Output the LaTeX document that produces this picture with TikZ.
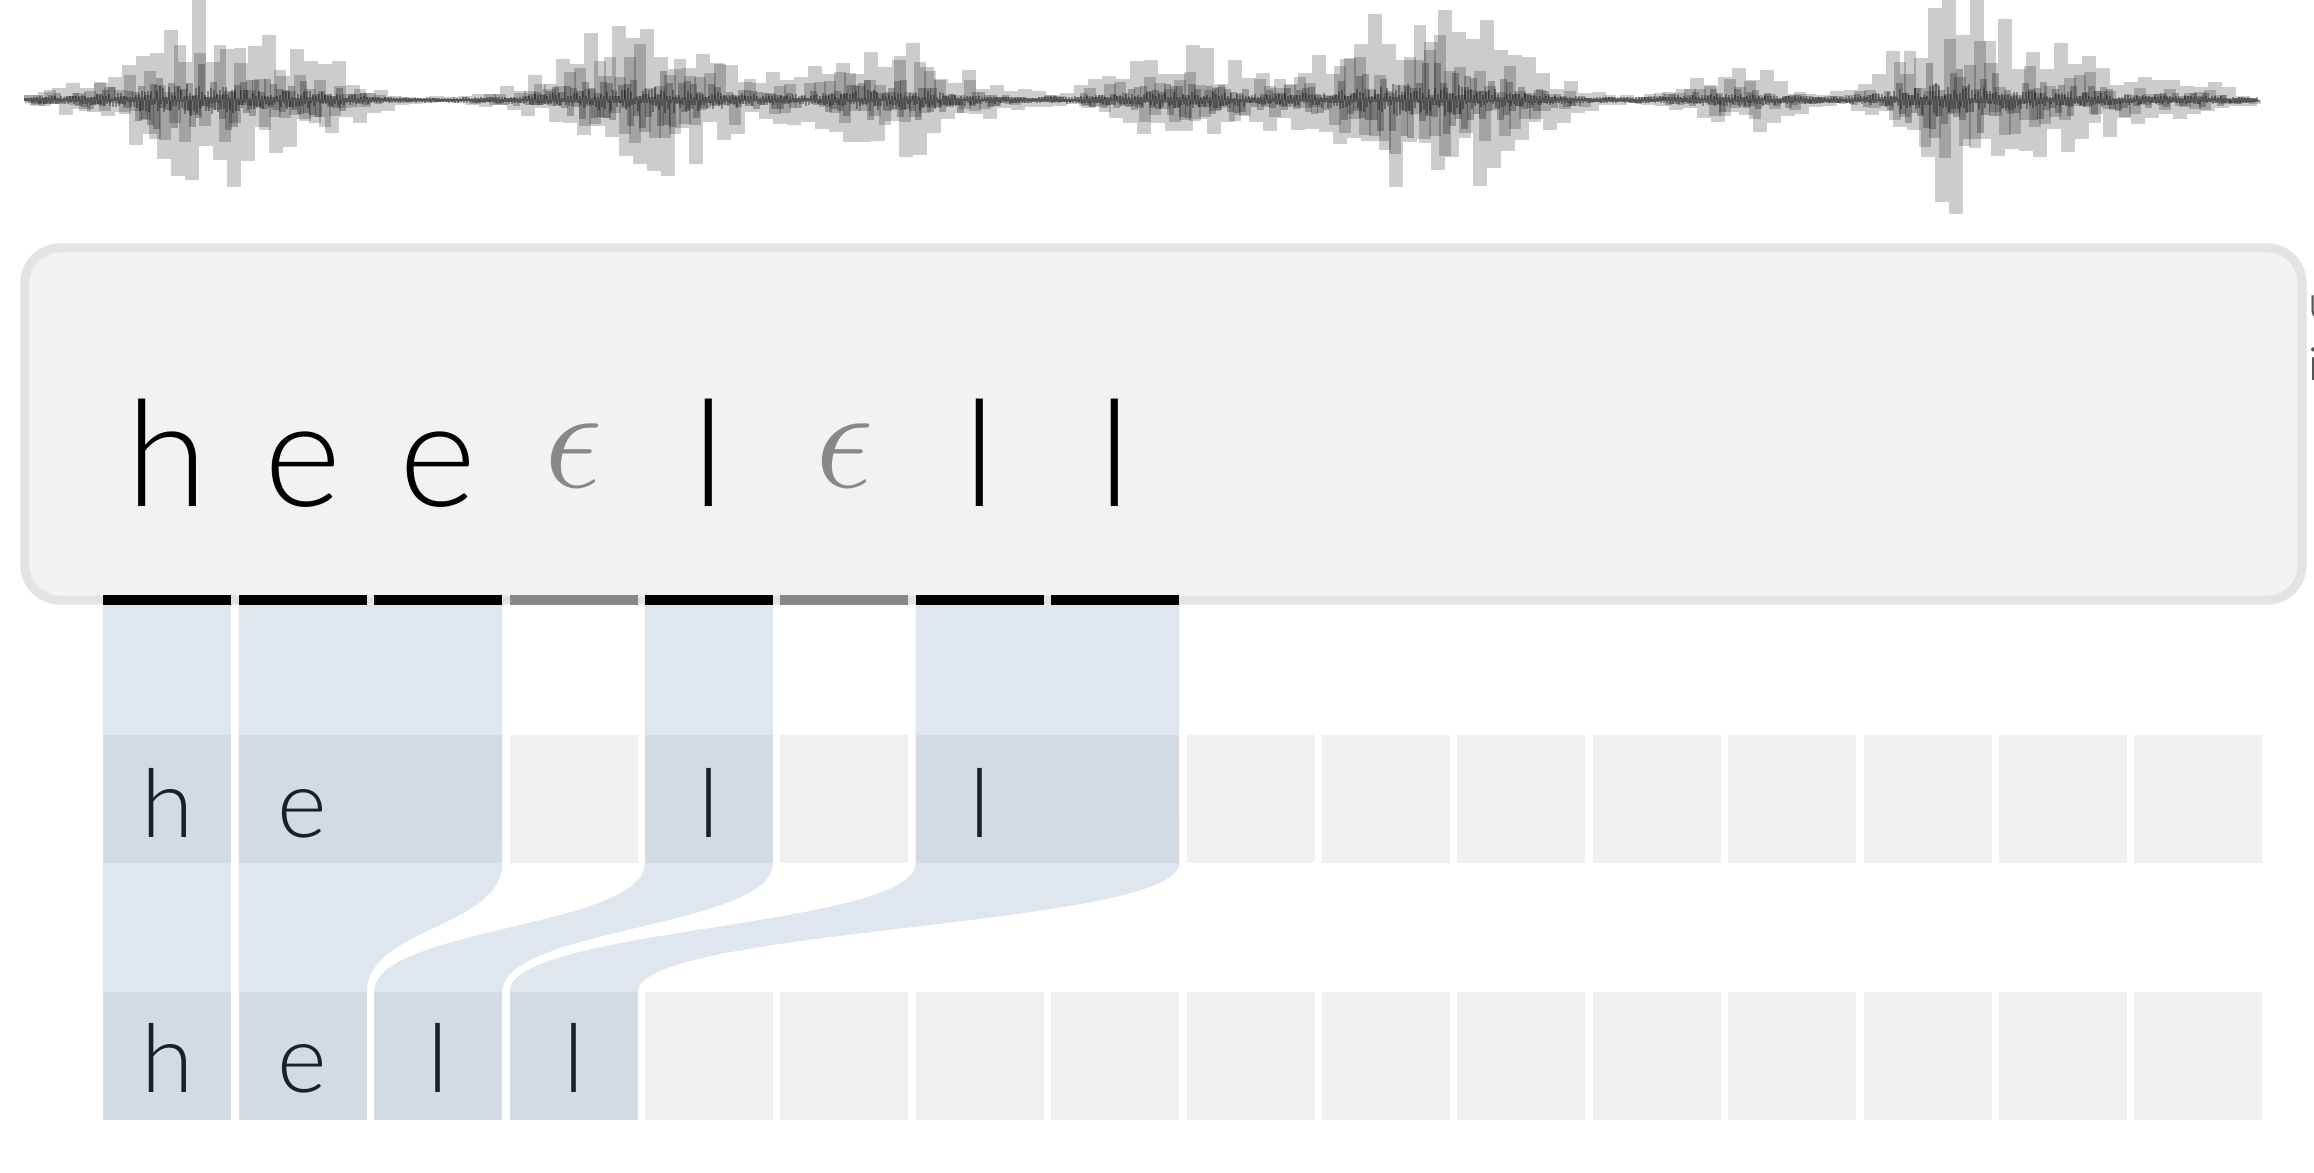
\RequirePackage{fix-cm}
\documentclass[tikz,border=0pt]{standalone}
\usepackage{fontspec}
\setmainfont{Lato Light}
\usetikzlibrary{backgrounds}
\definecolor{cBand}{HTML}{DFE6EF}
\definecolor{cHit}{HTML}{D2DAE4}
\definecolor{cCell}{HTML}{F0F0F0}
\definecolor{cBox}{HTML}{F2F2F2}
\definecolor{cFrame}{HTML}{E3E3E3}
\definecolor{cBlank}{HTML}{888888}
\definecolor{cInk}{HTML}{1B1F27}
\definecolor{cNote}{HTML}{555555}

\begin{document}
\begin{tikzpicture}[x=0.01cm, y=-0.01cm,
  declare function={bump(\px,\pc,\pw)=exp(max(-9,-((\px-\pc)/\pw)*((\px-\pc)/\pw)));
    env(\px)=3+12*bump(\px,60,40)+100*bump(\px,185,70)+45*bump(\px,300,55)
      +80*bump(\px,645,100)+60*bump(\px,890,80)+45*bump(\px,1180,90)
      +105*bump(\px,1420,100)+30*bump(\px,1730,65)+110*bump(\px,1945,60)
      +45*bump(\px,2060,70)+14*bump(\px,2190,50);},
  wave/.style={fill=black, opacity=0.2},
  frame/.style={draw=cFrame, fill=cBox, line width=0.09cm, rounded corners=0.35cm,
    minimum width=22.76cm, minimum height=3.52cm, inner sep=0pt},
  tok/.style={anchor=base, inner sep=0pt, font=\fontsize{42}{42}\selectfont},
  blank/.style={anchor=base, inner sep=0pt, text=cBlank, font=\fontsize{42}{42}\selectfont},
  seg/.style={anchor=north west, minimum width=1.28cm, minimum height=0.1cm, inner sep=0pt, outer sep=0pt},
  cell/.style={anchor=north west, fill=cCell, minimum width=1.28cm, minimum height=1.28cm,
    inner sep=0pt, outer sep=0pt},
  hit/.style={cell, fill=cHit},
  wide/.style={minimum width=2.634cm},
  glyph/.style={anchor=base, inner sep=0pt, text=cInk, font=\fontsize{27}{27}\selectfont},
  band/.style={fill=cBand},
  note/.style={anchor=base west, inner sep=0pt, text=cNote, font=\fontsize{13}{13}\selectfont}
]
\useasboundingbox (0,0) rectangle (2314,1172);

% waveform
\pgfmathsetseed{4242}
\foreach \x in {24,38,...,2245}{
  \pgfmathsetmacro\amp{env(\x)}
  \pgfmathsetmacro\up{\amp*(0.35+0.8*rnd)}
  \pgfmathsetmacro\dn{0.9*\amp*(0.35+0.8*rnd)}
  \fill[wave] (\x,100) rectangle ++(14,-\up);
  \fill[wave] (\x+7,100) rectangle ++(14,\dn);
}
\foreach \x in {24,34,...,2245}{
  \pgfmathsetmacro\amp{env(\x)}
  \pgfmathsetmacro\up{0.7*\amp*rnd}
  \pgfmathsetmacro\dn{0.6*\amp*rnd}
  \fill[wave] (\x,100) rectangle ++(12,-\up);
  \fill[wave] (\x+5,100) rectangle ++(12,\dn);
}
\foreach \x in {24,30,...,2250}{
  \pgfmathsetmacro\amp{env(\x)}
  \pgfmathsetmacro\up{1+0.35*\amp*rnd}
  \pgfmathsetmacro\dn{1+0.35*\amp*rnd}
  \fill[wave, opacity=0.25] (\x,100) rectangle ++(7,-\up);
  \fill[wave, opacity=0.25] (\x+3,100) rectangle ++(7,\dn);
}
\foreach \x in {24,27,...,2256}{
  \pgfmathsetmacro\amp{env(\x)}
  \pgfmathsetmacro\up{2+0.14*\amp*rnd}
  \pgfmathsetmacro\dn{2+0.14*\amp*rnd}
  \fill[wave, opacity=0.35] (\x,100) rectangle ++(2,-\up);
  \fill[wave, opacity=0.35] (\x+1,100) rectangle ++(2,\dn);
}
\draw[cNote, line width=0.35pt] (24,100) -- (2258,100);

% frame with the per-frame output
\node[frame] (box) at (1163.5,424) {};
\foreach \i/\t in {0/h,1/e,2/e,4/l,6/l,7/l}
  \node[tok] (tok-\i) at (167.3+135.4*\i,506) {\t};
\foreach \i in {3,5}
  \node[blank] (tok-\i) at (167.3+135.4*\i,487) {$\epsilon$};
\foreach \i/\c in {0/black,1/black,2/black,3/cBlank,4/black,5/cBlank,6/black,7/black}
  \node[seg, fill=\c] (bar-\i) at (103.3+135.4*\i,595) {};

% first row: merged repeats
\node[hit] (r1-h) at (103.3,735) {};
\node[hit, wide] (r1-e) at (238.7,735) {};
\node[hit] (r1-l1) at (644.9,735) {};
\node[hit, wide] (r1-l2) at (915.7,735) {};
\foreach \i in {3,5,8,9,10,11,12,13,14,15}
  \node[cell] (r1-\i) at (103.3+135.4*\i,735) {};
\foreach \n/\i/\t in {h/0/h,e/1/e,l1/4/l,l2/6/l}
  \node[glyph] (g1-\n) at (167.3+135.4*\i,837) {\t};

% second row: blanks removed
\node[hit] (r2-h) at (103.3,992) {};
\node[hit] (r2-e) at (238.7,992) {};
\node[hit] (r2-l1) at (374.1,992) {};
\node[hit] (r2-l2) at (509.5,992) {};
\foreach \i in {4,...,15}
  \node[cell] (r2-\i) at (103.3+135.4*\i,992) {};
\foreach \n/\i/\t in {h/0/h,e/1/e,l1/2/l,l2/3/l}
  \node[glyph] (g2-\n) at (167.3+135.4*\i,1092) {\t};

% cut-off text at the right edge
\node[note] (note-u) at (2308,318) {u};
\node[note] (note-i) at (2308,380) {i};

\begin{scope}[on background layer]
  \fill[white] (0,0) rectangle (2314,1172);
  \fill[band] (bar-0.south west) rectangle (r2-h.north east);
  \fill[band] (bar-1.south west) -- (bar-2.south east) -- (r1-e.south east)
    .. controls +(0,64.5) and +(0,-64.5) .. (r2-e.north east) -- (r2-e.north west) -- cycle;
  \fill[band] (bar-4.south west) -- (bar-4.south east) -- (r1-l1.south east)
    .. controls +(0,64.5) and +(0,-64.5) .. (r2-l1.north east) -- (r2-l1.north west)
    .. controls +(0,-64.5) and +(0,64.5) .. (r1-l1.south west) -- cycle;
  \fill[band] (bar-6.south west) -- (bar-7.south east) -- (r1-l2.south east)
    .. controls +(0,64.5) and +(0,-64.5) .. (r2-l2.north east) -- (r2-l2.north west)
    .. controls +(0,-64.5) and +(0,64.5) .. (r1-l2.south west) -- cycle;
\end{scope}
\end{tikzpicture}
\end{document}
